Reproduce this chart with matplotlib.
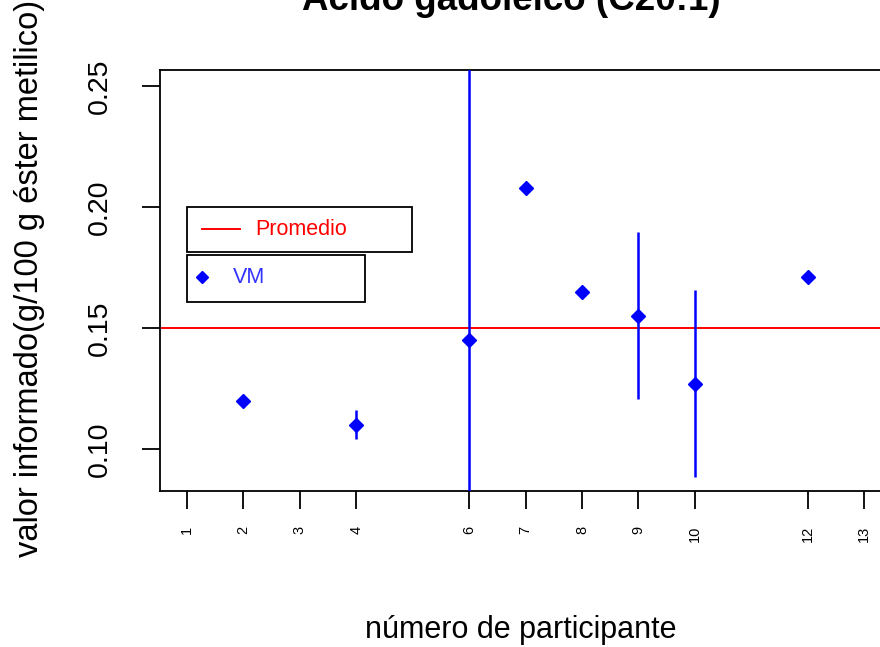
import numpy as np
import matplotlib
matplotlib.use("Agg")
import matplotlib.pyplot as plt
from matplotlib.patches import Rectangle

plt.rcParams['font.family'] = ['Liberation Sans', 'DejaVu Sans']

# participantes del ensayo
participantes = [1, 2, 3, 4, 6, 7, 8, 9, 10, 12, 13]
# participantes con valor informado
part_vm = [2, 4, 6, 7, 8, 9, 10, 12]
valores = [0.120, 0.110, 0.145, 0.208, 0.165, 0.155, 0.127, 0.171]
incert = [0.0, 0.006, 0.20, 0.0, 0.0, 0.0345, 0.0385, 0.0]
promedio = 0.150

fig = plt.figure(figsize=(8.8, 6.47), dpi=100)
W, H = 880, 647
x0, x1, y0, y1 = 160, 891, 70, 491
ax = fig.add_axes([x0 / W, 1 - y1 / H, (x1 - x0) / W, (y1 - y0) / H])

ax.set_xlim(0.52, 13.48)
ax.set_ylim(0.0826, 0.2566)

ax.axhline(promedio, color='red', lw=1.4, zorder=2)
ax.errorbar(part_vm, valores, yerr=incert, fmt='none', ecolor='blue',
            elinewidth=1.8, capsize=0, zorder=3)
ax.plot(part_vm, valores, 'D', color='blue', markersize=7.4, zorder=4)

# cuadros de leyenda
ax.add_patch(Rectangle((1.0, 0.1812), 3.98, 0.0188, fill=False,
                       ec='black', lw=1.3, zorder=5, clip_on=False))
ax.plot([1.27, 1.94], [0.1907, 0.1907], color='red', lw=1.4, zorder=6)
ax.text(2.2, 0.1907, 'Promedio', color='red', fontsize=15.5,
        va='center', ha='left', zorder=6)
ax.add_patch(Rectangle((1.0, 0.1607), 3.15, 0.0195, fill=False,
                       ec='black', lw=1.3, zorder=5, clip_on=False))
ax.plot([1.27], [0.1709], 'D', color='blue', markersize=6.5, zorder=6)
ax.text(1.82, 0.1709, 'VM', color='#3333ff', fontsize=15.5,
        va='center', ha='left', zorder=6)

ax.set_xticks(participantes)
ax.set_xticklabels([str(p) for p in participantes], rotation=90, fontsize=10.5)
ax.set_yticks([0.10, 0.15, 0.20, 0.25])
ax.set_yticklabels(['0.10', '0.15', '0.20', '0.25'], rotation=90,
                   va='center', fontsize=20.5)
ax.tick_params(axis='x', length=13, width=1.3, pad=12)
ax.tick_params(axis='y', length=13, width=1.3, pad=21)
for s in ax.spines.values():
    s.set_linewidth(1.3)

fig.text(521 / W, 1 - 630 / H, 'número de participante', fontsize=22,
         ha='center', va='center')
fig.text(30 / W, 1 - 278 / H, 'valor informado(g/100 g éster metilico)',
         fontsize=23.5, rotation=90, ha='center', va='center')
fig.text(511 / W, 1 - 10 / H, 'Ácido gadoleico (C20:1)', fontsize=26.5,
         fontweight='bold', ha='center', va='baseline')

fig.savefig('out.png', dpi=100)
